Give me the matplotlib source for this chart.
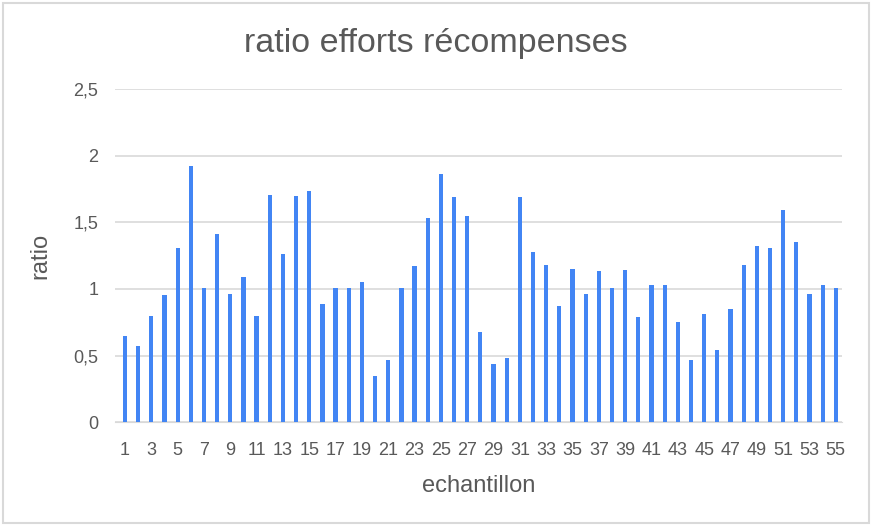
import matplotlib.pyplot as plt

echantillons = list(range(1, 56))
ratios = [0.65, 0.57, 0.80, 0.955, 1.31, 1.92, 1.005, 1.415, 0.96, 1.09,
          0.795, 1.705, 1.26, 1.70, 1.735, 0.885, 1.01, 1.01, 1.05, 0.35,
          0.47, 1.01, 1.17, 1.53, 1.86, 1.69, 1.55, 0.675, 0.44, 0.48,
          1.69, 1.275, 1.18, 0.875, 1.15, 0.96, 1.135, 1.005, 1.145, 0.79,
          1.03, 1.03, 0.75, 0.47, 0.81, 0.54, 0.85, 1.18, 1.325, 1.31,
          1.595, 1.35, 0.96, 1.03, 1.005]
yticks = [0, 0.5, 1, 1.5, 2, 2.5]
ytick_labels = ["0", "0,5", "1", "1,5", "2", "2,5"]

plt.rcParams['font.family'] = ['Liberation Sans', 'DejaVu Sans']

fig = plt.figure(figsize=(8.72, 5.25), dpi=100)
ax = fig.add_axes([0.132, 0.196, 0.834, 0.634])

ax.bar(echantillons, ratios, width=0.32, color='#4285f4', zorder=3)

ax.set_ylim(0, 2.5)
ax.set_xlim(0.25, 55.5)
ax.set_yticks(yticks)
ax.set_yticklabels(ytick_labels)
ax.set_xticks(echantillons[::2])
ax.grid(axis='y', color='#d9d9d9', linewidth=1.2, zorder=0)
for s in ['top', 'right', 'left']:
    ax.spines[s].set_visible(False)
ax.spines['bottom'].set_color('#d9d9d9')
ax.tick_params(length=0, labelsize=13, colors='#595959')
ax.tick_params(axis='x', pad=14)
ax.tick_params(axis='y', pad=12)

ax.set_xlabel("echantillon", fontsize=17, color='#595959', labelpad=12)
ax.set_ylabel("ratio", fontsize=17, color='#595959', labelpad=16)
fig.text(0.5, 0.918, "ratio efforts récompenses", ha='center', va='center',
         fontsize=24.5, color='#595959')

# light frame around the whole chart
fig.patches.append(plt.Rectangle((0.003, 0.004), 0.994, 0.99, transform=fig.transFigure,
                                 fill=False, edgecolor='#d9d9d9', linewidth=1.5))

fig.savefig("out.png", dpi=100)
